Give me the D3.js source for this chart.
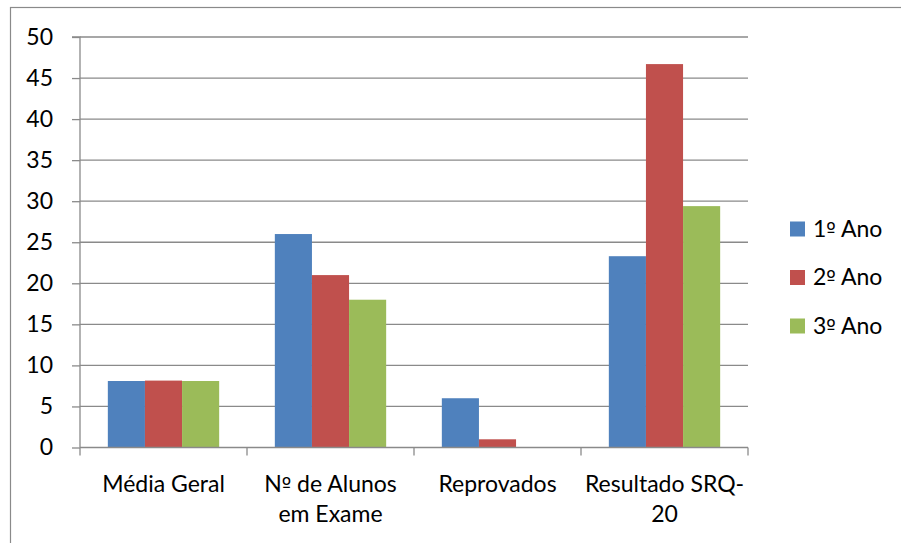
<!DOCTYPE html>
<html>
<head>
<meta charset="utf-8">
<script src="https://cdn.jsdelivr.net/npm/d3@7"></script>
<style>
  html, body { margin: 0; padding: 0; background: #fff; }
  svg { display: block; }
  text { font-family: Lato, "Open Sans", sans-serif; fill: #000; }
  .ord { font-family: "DejaVu Sans", "Open Sans", sans-serif; }
</style>
</head>
<body>
<svg id="chart" width="901" height="543"></svg>
<script>
// Categories on the x axis and their wrapped label lines
const categories = ["Média Geral", "Nº de Alunos em Exame", "Reprovados", "Resultado SRQ-20"];
const categoryLines = [["Média Geral"], ["Nº de Alunos", "em Exame"], ["Reprovados"], ["Resultado SRQ-", "20"]];

// One series per school year
const seriesNames = ["1º Ano", "2º Ano", "3º Ano"];
const ano1 = [8.1, 26, 6, 23.3];
const ano2 = [8.15, 21, 1, 46.7];
const ano3 = [8.1, 18, 0, 29.4];
const seriesValues = [ano1, ano2, ano3];
const seriesColors = ["#4F81BD", "#C0504D", "#9BBB59"];

// Y axis ticks
const yTicks = [0, 5, 10, 15, 20, 25, 30, 35, 40, 45, 50];

const svg = d3.select("#chart");
const gray = "#8a8a8a";
const fontSize = 23;

// Writes a string into a text node, setting the ordinal sign in a font that underlines it
function setText(sel, str) {
  str.split(/(º)/).filter(p => p.length).forEach(p => {
    const ts = sel.append("tspan").text(p);
    if (p === "º") ts.attr("class", "ord").attr("font-size", fontSize - 3);
  });
}

// Outer frame of the chart (open at right and bottom where the page cuts it)
svg.append("rect")
  .attr("x", 10.5).attr("y", 7.5)
  .attr("width", 1000).attr("height", 1000)
  .attr("fill", "none").attr("stroke", gray).attr("stroke-width", 1.2);

const plot = { left: 80, right: 748, top: 37, bottom: 447.5 };

const x = d3.scaleBand().domain(categories).range([plot.left, plot.right]).paddingInner(0).paddingOuter(0);
const xs = d3.scaleBand().domain(seriesNames).range([0, x.bandwidth()]).paddingInner(0).paddingOuter(0.75);
const y = d3.scaleLinear().domain([0, 50]).range([plot.bottom, plot.top]);

// Horizontal gridlines
svg.append("g").selectAll("line").data(yTicks.filter(d => d > 0)).join("line")
  .attr("x1", plot.left).attr("x2", plot.right)
  .attr("y1", d => y(d)).attr("y2", d => y(d))
  .attr("stroke", gray).attr("stroke-width", 1.3);

// Bars
const rows = [];
categories.forEach((c, i) => seriesNames.forEach((s, j) => rows.push({ c, s, v: seriesValues[j][i], color: seriesColors[j] })));
svg.append("g").selectAll("rect").data(rows).join("rect")
  .attr("x", d => x(d.c) + xs(d.s))
  .attr("y", d => y(d.v))
  .attr("width", xs.bandwidth())
  .attr("height", d => y(0) - y(d.v))
  .attr("fill", d => d.color);

// Y axis
const yAxis = d3.axisLeft(y).tickValues(yTicks).tickSize(8).tickPadding(19).tickFormat(d3.format("d"));
const gy = svg.append("g").attr("transform", `translate(${plot.left},0)`).call(yAxis);
gy.select(".domain").attr("stroke", gray).attr("stroke-width", 1.3).attr("d", `M-8,${plot.top}H0V${plot.bottom}`);
gy.selectAll(".tick line").attr("stroke", gray).attr("stroke-width", 1.3);
gy.selectAll(".tick text").attr("font-size", fontSize).attr("font-family", "Lato, 'Open Sans', sans-serif").attr("fill", "#000");

// X axis with category boundary ticks
const gx = svg.append("g").attr("transform", `translate(0,${plot.bottom})`);
gx.append("line").attr("x1", plot.left).attr("x2", plot.right).attr("y1", 0).attr("y2", 0)
  .attr("stroke", gray).attr("stroke-width", 1.3);
const bounds = categories.map(c => x(c)).concat([plot.right]);
gx.selectAll("line.b").data(bounds).join("line").attr("class", "b")
  .attr("x1", d => d).attr("x2", d => d).attr("y1", 0).attr("y2", 8)
  .attr("stroke", gray).attr("stroke-width", 1.3);

// Category labels
categories.forEach((c, i) => {
  const cx = x(c) + x.bandwidth() / 2;
  categoryLines[i].forEach((line, k) => {
    const t = gx.append("text")
      .attr("x", cx)
      .attr("y", 44 + k * 30)
      .attr("text-anchor", "middle")
      .attr("font-size", fontSize);
    setText(t, line);
  });
});

// Legend
const legend = svg.append("g").attr("transform", "translate(790,221.5)");
seriesNames.forEach((s, j) => {
  const g = legend.append("g").attr("transform", `translate(0,${j * 48.5})`);
  g.append("rect").attr("width", 15).attr("height", 15).attr("fill", seriesColors[j]);
  setText(g.append("text").attr("x", 23).attr("y", 15).attr("font-size", fontSize), s);
});
</script>
</body>
</html>
